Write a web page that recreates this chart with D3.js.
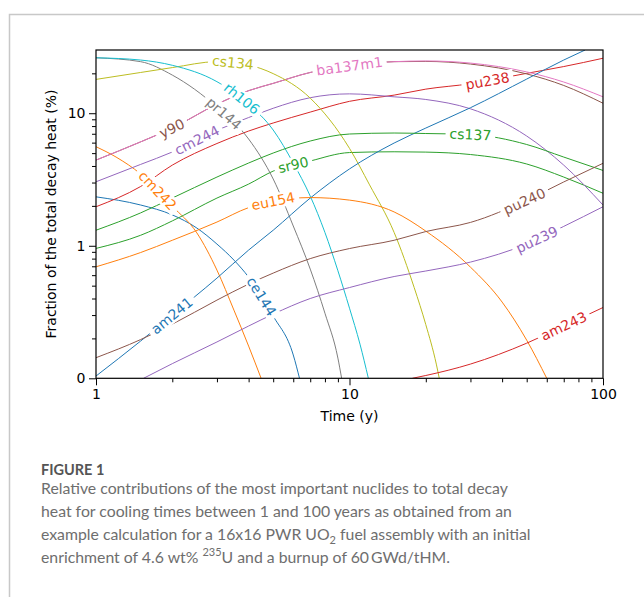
<!DOCTYPE html>
<html>
<head>
<meta charset="utf-8">
<script src="https://cdn.jsdelivr.net/npm/d3@7"></script>
<style>
body { margin:0; background:#fff; }
svg text { font-family:"DejaVu Sans", sans-serif; }
</style>
</head>
<body>
<script>
// nuclides, in plotting order (tab10 colour cycle)
var nuclides = ["ce144","cm242","sr90","pu238","cm244","y90","ba137m1","pr144",
                "cs134","rh106","am241","eu154","cs137","am243","pu239","pu240"];
var colors = ["#1f77b4","#ff7f0e","#2ca02c","#d62728","#9467bd","#8c564b","#e377c2",
              "#7f7f7f","#bcbd22","#17becf"];

// time (y) and fraction of decay heat (%) for every nuclide
var ce144T = [1, 1.5, 2, 2.5, 3, 3.5, 4, 5, 6, 6.35];
var ce144V = [2.34, 2.03, 1.71, 1.36, 1.03, 0.78, 0.58, 0.295, 0.15, 0.1];
var cm242T = [1, 1.2, 1.5, 2, 2.5, 3, 3.5, 4, 4.48];
var cm242V = [5.59, 4.67, 3.48, 1.99, 1.25, 0.655, 0.327, 0.175, 0.1];
var sr90T = [1, 1.5, 2, 3, 4, 5, 7, 10, 15, 20, 30, 50, 70, 100];
var sr90V = [0.955, 1.2, 1.54, 2.29, 2.92, 3.66, 4.36, 5.05, 5.12, 5.09, 4.88, 4.14, 3.3, 2.49];
var pu238T = [1, 1.5, 2, 3, 4, 5, 7, 10, 15, 20, 30, 50, 70, 100];
var pu238V = [1.97, 2.8, 4.06, 5.91, 7.34, 8.44, 10.2, 12.3, 13.7, 15.2, 16.7, 20.0, 22.5, 26.0];
var cm244T = [1, 1.5, 2, 3, 4, 5, 7, 10, 15, 20, 30, 50, 70, 100];
var cm244V = [3.04, 4.11, 5.1, 7.43, 9.28, 10.9, 13.1, 14.0, 13.3, 12.7, 10.8, 6.73, 4.06, 2.03];
var y90T = [1, 1.5, 2, 3, 4, 5, 7, 10, 15, 20, 30, 50, 70, 100];
var y90V = [4.43, 6.08, 7.73, 11.7, 14.8, 16.8, 20.3, 22.7, 24.5, 24.6, 23.5, 19.8, 16.2, 11.9];
var ba137m1T = [1, 1.5, 2, 3, 4, 5, 7, 10, 15, 20, 30, 50, 70, 100];
var ba137m1V = [4.43, 6.08, 7.73, 11.7, 14.8, 16.8, 20.3, 22.7, 24.5, 24.8, 23.9, 20.5, 17.2, 13.3];
var pr144T = [1, 1.5, 2, 3, 4, 5, 6, 7, 8, 9, 9.31];
var pr144V = [26.2, 24.5, 19.4, 11.1, 6.39, 3.19, 1.41, 0.667, 0.31, 0.142, 0.1];
var cs134T = [1, 1.5, 2, 3, 4, 5, 7, 10, 12, 15, 18, 20, 22, 22.6];
var cs134V = [18.0, 20.3, 22.1, 24.5, 23.1, 19.9, 13.0, 5.43, 2.88, 1.26, 0.483, 0.254, 0.128, 0.1];
var rh106T = [1, 1.5, 2, 3, 4, 5, 6, 7, 8, 9, 10, 11, 11.87];
var rh106V = [26.2, 25.2, 23.0, 17.3, 11.7, 7.47, 4.21, 2.37, 1.26, 0.648, 0.338, 0.181, 0.1];
var am241T = [1, 1.5, 2, 3, 4, 5, 7, 10, 15, 20, 30, 50, 70, 85];
var am241V = [0.104, 0.191, 0.3, 0.57, 0.928, 1.31, 2.29, 3.8, 5.96, 7.73, 11.0, 18.1, 25.2, 30];
var eu154T = [1, 1.5, 2, 3, 4, 5, 7, 10, 15, 20, 30, 40, 50, 60];
var eu154V = [0.694, 0.889, 1.1, 1.51, 1.94, 2.17, 2.31, 2.21, 1.8, 1.29, 0.69, 0.376, 0.194, 0.1];
var cs137T = [1, 1.5, 2, 3, 4, 5, 7, 10, 15, 20, 30, 50, 70, 100];
var cs137V = [1.31, 1.77, 2.29, 3.3, 4.21, 5.01, 6.17, 6.97, 7.09, 7.03, 6.91, 5.81, 4.67, 3.7];
var am243T = [17.7, 20, 30, 50, 70, 100];
var am243V = [0.1, 0.105, 0.128, 0.184, 0.248, 0.342];
var pu239T = [1.54, 2, 3, 4, 5, 7, 10, 15, 20, 30, 50, 70, 100];
var pu239V = [0.1, 0.129, 0.188, 0.248, 0.305, 0.4, 0.484, 0.586, 0.645, 0.753, 1.03, 1.4, 1.97];
var pu240T = [1, 1.5, 2, 3, 4, 5, 7, 10, 15, 20, 30, 50, 70, 100];
var pu240V = [0.143, 0.196, 0.256, 0.389, 0.514, 0.622, 0.8, 0.953, 1.1, 1.28, 1.5, 2.21, 3.03, 4.19];

// time where each inline label sits
var labelAt = [4.5, 1.75, 6.0, 35, 2.5, 1.99, 10, 3.2, 3.47, 3.76, 1.99, 5.0, 30, 70, 54.8, 49];

var xTicks = [1, 10, 100];
var xMinor = [2,3,4,5,6,7,8,9,20,30,40,50,60,70,80,90];
var yTicks = [0.1, 1, 10];
var yMinor = [0.2,0.3,0.4,0.5,0.6,0.7,0.8,0.9,2,3,4,5,6,7,8,9,20];

var captionTitle = "FIGURE 1";

var seriesT = [ce144T,cm242T,sr90T,pu238T,cm244T,y90T,ba137m1T,pr144T,cs134T,rh106T,am241T,eu154T,cs137T,am243T,pu239T,pu240T];
var seriesV = [ce144V,cm242V,sr90V,pu238V,cm244V,y90V,ba137m1V,pr144V,cs134V,rh106V,am241V,eu154V,cs137V,am243V,pu239V,pu240V];
var series = nuclides.map(function(n,i){
  return {name:n, color:colors[i % 10], at:labelAt[i],
    pts: seriesT[i].map(function(t,j){ return [t, seriesV[i][j]]; })};
});

var w = 644, h = 597;
var svg = d3.select("body").append("svg").attr("width",w).attr("height",h);

// card border
svg.append("path").attr("d","M9.5,597 V14.5 H644").attr("fill","none")
  .attr("stroke","#c8c8c8").attr("stroke-width",1.5);

var x = d3.scaleLog().domain([1,100]).range([96,603]);
var y = d3.scaleLog().domain([0.1,30]).range([378.3,50]);

svg.append("clipPath").attr("id","plot").append("rect")
  .attr("x",96).attr("y",50).attr("width",507).attr("height",328.3);

var line = d3.line()
  .x(function(d){ return x(d[0]); })
  .y(function(d){ return y(d[1]); })
  .curve(d3.curveMonotoneX);

var paths = svg.append("g").attr("clip-path","url(#plot)")
  .selectAll("path").data(series).enter().append("path")
  .attr("d",function(d){ return line(d.pts); })
  .attr("fill","none")
  .attr("stroke",function(d){ return d.color; })
  .attr("stroke-width",1);

// inline labels, placed on the drawn curve
function onPath(node, px){
  var L = node.getTotalLength(), lo = 0, hi = L;
  for (var i=0;i<40;i++){
    var mid = (lo+hi)/2;
    if (node.getPointAtLength(mid).x < px) lo = mid; else hi = mid;
  }
  var p = node.getPointAtLength(lo);
  var a = node.getPointAtLength(Math.max(0,lo-3));
  var b = node.getPointAtLength(Math.min(L,lo+3));
  return {x:p.x, y:p.y, ang:Math.atan2(b.y-a.y, b.x-a.x)*180/Math.PI};
}

var labels = svg.append("g");
paths.each(function(d){
  var p = onPath(this, x(d.at));
  var g = labels.append("g").attr("transform","translate("+p.x+","+p.y+") rotate("+p.ang+")");
  var r = g.append("rect").attr("fill","white");
  var t = g.append("text").text(d.name)
    .attr("text-anchor","middle").attr("dy","0.36em")
    .attr("font-size","14px").attr("fill",d.color);
  var tw = t.node().getComputedTextLength();
  r.attr("x",-tw/2-4).attr("y",-7.5).attr("width",tw+8).attr("height",15);
});

// axes
svg.append("g").attr("transform","translate(0,378.3)")
  .call(d3.axisBottom(x).tickValues(xTicks).tickFormat(d3.format("d")).tickSize(7).tickPadding(3.5));
svg.append("g").attr("transform","translate(0,378.3)")
  .call(d3.axisBottom(x).tickValues(xMinor).tickFormat("").tickSize(4));
svg.append("g").attr("transform","translate(96,0)")
  .call(d3.axisLeft(y).tickValues(yTicks).tickFormat(function(d){ return Math.floor(d); }).tickSize(7).tickPadding(3.5));
svg.append("g").attr("transform","translate(96,0)")
  .call(d3.axisLeft(y).tickValues(yMinor).tickFormat("").tickSize(4));

svg.selectAll(".domain").remove();
svg.selectAll(".tick line").attr("stroke","#000").attr("stroke-width",1);
svg.selectAll(".tick text").attr("font-size","14px").attr("font-family","DejaVu Sans").attr("fill","#000");

svg.append("rect").attr("x",96).attr("y",50).attr("width",507).attr("height",328.3)
  .attr("fill","none").attr("stroke","#000").attr("stroke-width",1.2);

svg.append("text").attr("x",349.5).attr("y",421).attr("text-anchor","middle")
  .attr("font-size","14px").text("Time (y)");
svg.append("text").attr("transform","translate(56,214) rotate(-90)").attr("text-anchor","middle")
  .attr("font-size","14px").text("Fraction of the total decay heat (%)");

// caption
var capFont = "Lato, 'Open Sans', sans-serif";
svg.append("text").attr("x",41).attr("y",474.5).attr("font-size","14.5px")
  .attr("font-weight","bold").attr("fill","#555").style("font-family",capFont).text(captionTitle);

var cap = [
  [["Relative contributions of the most important nuclides to total decay"]],
  [["heat for cooling times between 1 and 100 years as obtained from an"]],
  [["example calculation for a 16x16 PWR UO"],["2",4],[" fuel assembly with an initial"]],
  [["enrichment of 4.6 wt% "],["235",-7],["U and a burnup of 60\u2009GWd/tHM."]]
];
cap.forEach(function(parts,i){
  var t = svg.append("text").attr("x",41).attr("y",494+i*23)
    .attr("font-size","15.8px").attr("fill","#6e6e6e")
    .style("font-family",capFont);
  var back = 0;
  parts.forEach(function(p){
    var s = t.append("tspan").text(p[0]);
    if (p[1]) {
      s.attr("font-size","11px").attr("dy",p[1]);
      back = -p[1];
    } else if (back) {
      s.attr("dy",back);
      back = 0;
    }
  });
});
</script>
</body>
</html>
